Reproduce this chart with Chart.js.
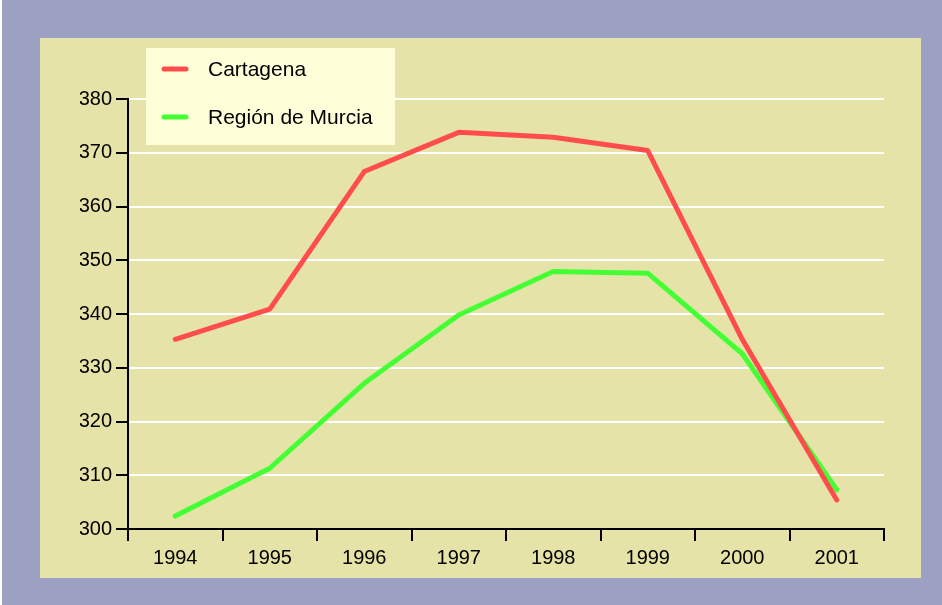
<!DOCTYPE html>
<html>
<head>
<meta charset="utf-8">
<script src="https://cdn.jsdelivr.net/npm/chart.js@4"></script>
<style>
  html, body { margin: 0; padding: 0; background: #ffffff; }
  #wrap { width: 942px; height: 605px; }
</style>
</head>
<body>
<div id="wrap"><canvas id="chart" width="942" height="605"></canvas></div>
<script>
// data
const years = ["1994", "1995", "1996", "1997", "1998", "1999", "2000", "2001"];
const cartagena = [335.3, 340.9, 366.5, 373.8, 372.9, 370.4, 335.3, 305.4];
const murcia = [302.4, 311.3, 327.1, 339.8, 347.9, 347.6, 332.6, 307.3];
const seriesNames = ["Cartagena", "Región de Murcia"];
const yMin = 300, yMax = 380, yStep = 10;

const fontFamily = "'Liberation Sans', Arial, sans-serif";
const red = "#ff4d4d";
const green = "#44ff33";

// backgrounds: lavender frame + khaki panel
const panelPlugin = {
  id: "panel",
  beforeDraw(chart) {
    const ctx = chart.ctx;
    ctx.save();
    ctx.fillStyle = "#ffffff";
    ctx.fillRect(0, 0, chart.width, chart.height);
    ctx.fillStyle = "#9ca1c4";
    ctx.fillRect(2, 0, chart.width - 2, chart.height);
    ctx.fillStyle = "#e5e3a7";
    ctx.fillRect(40, 38, 881, 540);
    ctx.restore();
  }
};

// legend box drawn over the plot
const legendBox = {
  id: "legendBox",
  afterDraw(chart) {
    const ctx = chart.ctx;
    ctx.save();
    ctx.fillStyle = "#fefed9";
    ctx.fillRect(146, 48, 249, 97);
    chart.data.datasets.forEach((ds, i) => {
      const y = 69 + i * 48;
      ctx.strokeStyle = ds.borderColor;
      ctx.lineWidth = 5;
      ctx.lineCap = "round";
      ctx.beginPath();
      ctx.moveTo(164, y);
      ctx.lineTo(186, y);
      ctx.stroke();
      ctx.fillStyle = "#000000";
      ctx.font = "21px " + fontFamily;
      ctx.textBaseline = "middle";
      ctx.textAlign = "left";
      ctx.fillText(ds.label, 208, y + 1);
    });
    ctx.restore();
  }
};

const ctx = document.getElementById("chart").getContext("2d");
new Chart(ctx, {
  type: "line",
  data: {
    labels: years,
    datasets: [
      {
        label: seriesNames[0],
        data: cartagena,
        borderColor: red,
        borderWidth: 5,
        borderCapStyle: "round",
        borderJoinStyle: "round",
        pointRadius: 0,
        tension: 0
      },
      {
        label: seriesNames[1],
        data: murcia,
        borderColor: green,
        borderWidth: 5,
        borderCapStyle: "round",
        borderJoinStyle: "round",
        pointRadius: 0,
        tension: 0
      }
    ]
  },
  options: {
    responsive: false,
    animation: false,
    layout: {
      padding: { left: 80, right: 58, top: 99, bottom: 26 }
    },
    plugins: {
      legend: { display: false },
      tooltip: { enabled: false }
    },
    scales: {
      x: {
        offset: true,
        z: 1,
        grid: {
          offset: true,
          drawOnChartArea: false,
          color: "#000000",
          lineWidth: 2,
          tickLength: 12
        },
        border: { color: "#000000", width: 2 },
        ticks: {
          color: "#000000",
          padding: 5,
          maxRotation: 0,
          font: { family: fontFamily, size: 20 }
        },
        afterFit(scale) { scale.height = 50; }
      },
      y: {
        min: yMin,
        max: yMax,
        grid: {
          color: "#ffffff",
          tickColor: "#000000",
          lineWidth: 2,
          tickLength: 12
        },
        border: { color: "#000000", width: 2 },
        ticks: {
          stepSize: yStep,
          color: "#000000",
          padding: 4,
          font: { family: fontFamily, size: 20 }
        },
        afterFit(scale) { scale.width = 48; }
      }
    }
  },
  plugins: [panelPlugin, legendBox]
});
</script>
</body>
</html>
